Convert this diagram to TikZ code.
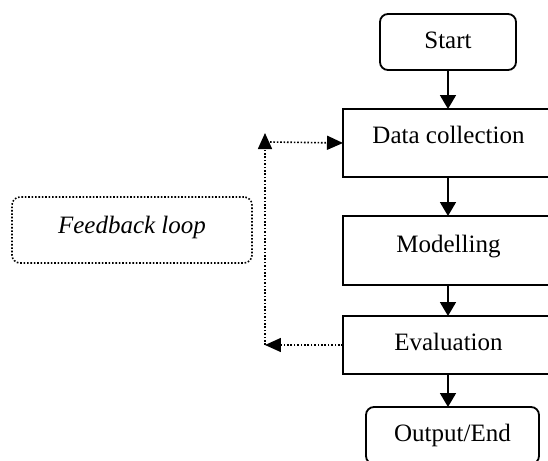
\documentclass[tikz,border=0pt]{standalone}
\usepackage{fontspec}
\setmainfont{Liberation Serif}
\usetikzlibrary{arrows.meta}

\begin{document}
\begin{tikzpicture}[x=0.5pt, y=-0.5pt,
	font=\fontsize{12.5}{14}\selectfont,
	box/.style={draw, line width=0.9pt, anchor=north west, outer sep=0pt, align=center,
		inner xsep=0pt, inner ysep=8pt, text height=9pt},
	roundbox/.style={box, rounded corners=4pt},
	flow/.style={line width=0.9pt, -{Triangle[length=7pt, width=8pt]}},
	fb/.style={line width=0.8pt, dash pattern=on 0.8pt off 0.9pt, -{Triangle[length=8pt, width=7pt]}}]
	\clip (0,0) rectangle (548,461);
	\node [roundbox, minimum width=68pt, text depth=3pt] (start) at (380,14) {Start};
	\node [box, minimum width=105.5pt, text depth=9pt] (data) at (343,109) {Data collection};
	\node [box, minimum width=105.5pt, text depth=8.5pt, text height=10pt] (model) at (343,216) {Modelling};
	\node [box, minimum width=105.5pt, text depth=4pt] (eval) at (343,316) {Evaluation};
	\node [roundbox, minimum width=86.5pt, text depth=3.5pt] (out) at (366,407) {Output/End};
	\node [box, rounded corners=4pt, dash pattern=on 0.8pt off 0.9pt, line width=0.8pt, minimum width=120pt,
		text height=10pt, text depth=7pt, font=\fontsize{12.5}{14}\selectfont\itshape] (loop) at (12,197) {Feedback loop};

	\draw [flow] (start) -- (start |- data.north);
	\draw [flow] (data.south -| start) -- (start |- model.north);
	\draw [flow] (model.south -| start) -- (start |- eval.north);
	\draw [flow] (eval.south -| start) -- (start |- out.north);

	\coordinate (fbcorner) at (265,345);
	\coordinate (fbtop) at (265,133);
	\coordinate (fbstart) at (270,142);
	\draw [fb] (eval.west) -- (fbcorner);
	\draw [fb] (fbcorner) -- (fbtop);
	\draw [fb] (fbstart) -- (data.west);
\end{tikzpicture}
\end{document}
